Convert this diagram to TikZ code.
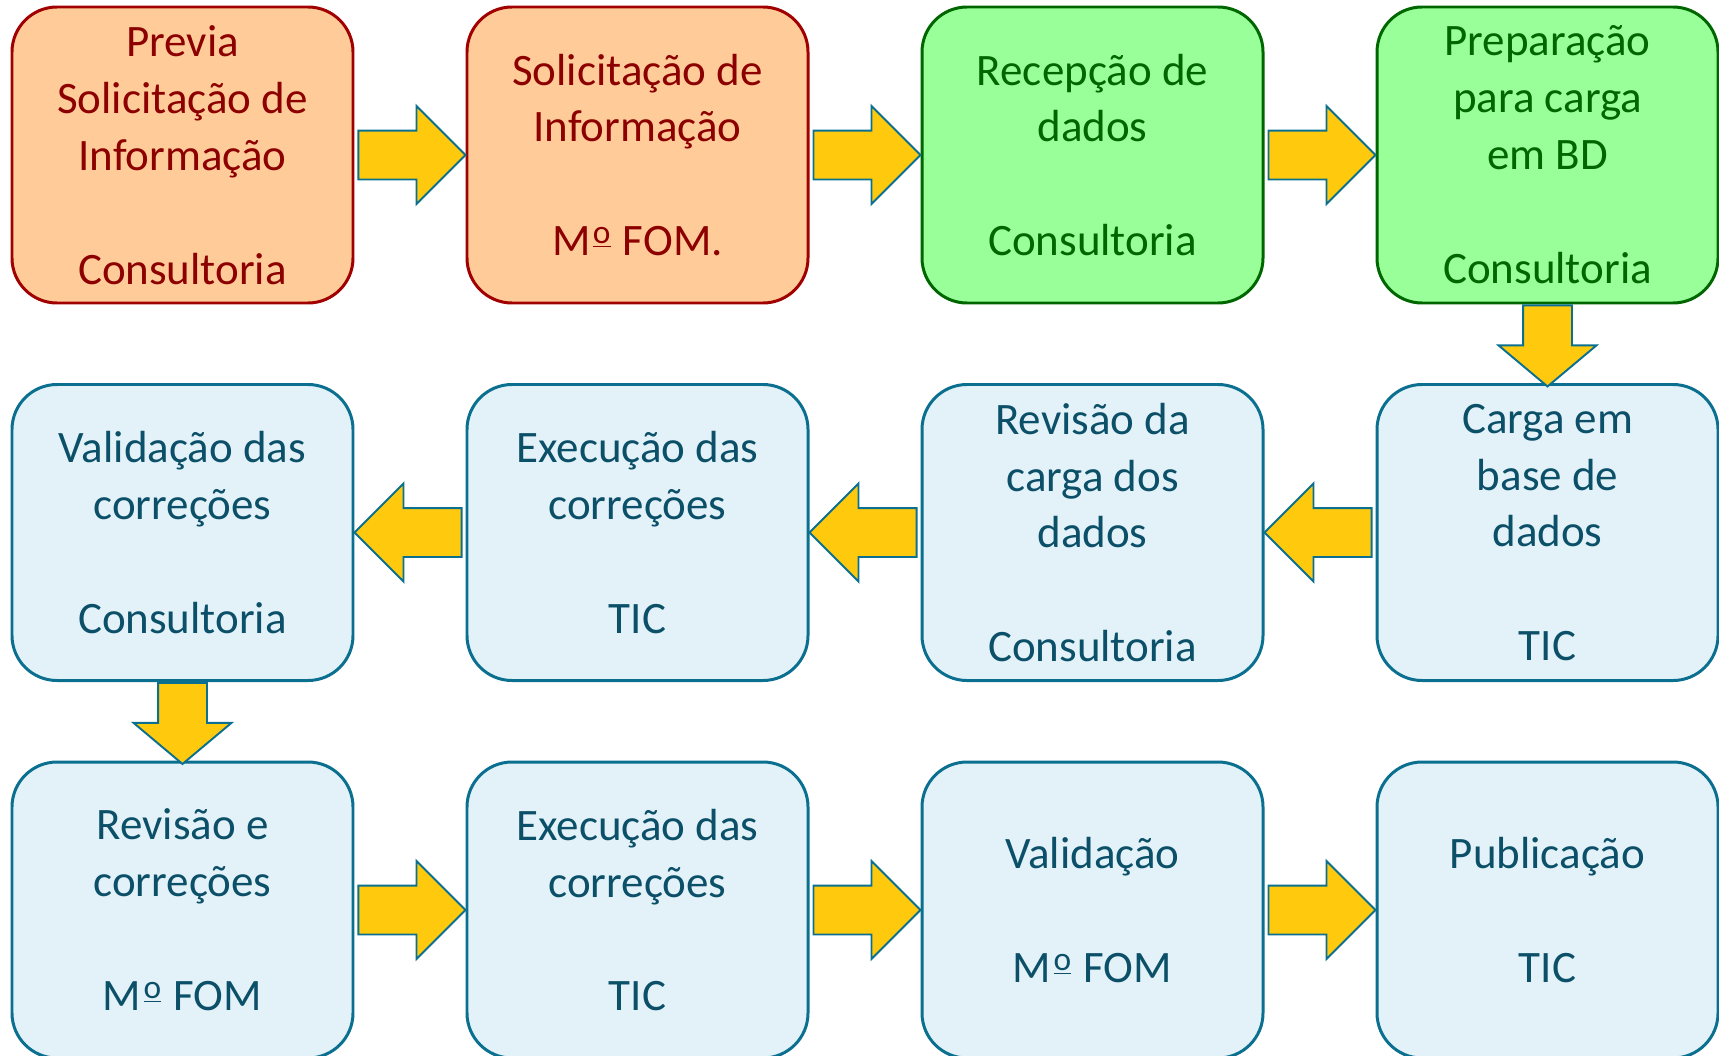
\documentclass[tikz,border=0pt]{standalone}
\usepackage{fontspec}
\setmainfont{Carlito}
\usepackage{xcolor}
\usepackage{tikz}
\usetikzlibrary{shapes.arrows, calc, positioning}

\definecolor{peach}{HTML}{FFCC99}
\definecolor{redline}{HTML}{A00000}
\definecolor{redtext}{HTML}{8C0000}
\definecolor{greenfill}{HTML}{99FF99}
\definecolor{greenline}{HTML}{006600}
\definecolor{bluefill}{HTML}{E3F2F8}
\definecolor{blueline}{HTML}{0B7090}
\definecolor{bluetext}{HTML}{0B5068}
\definecolor{arrowfill}{HTML}{FFC90E}
\newcommand{\mfom}{M\kern0.05em\raisebox{0.27em}{\fontsize{19}{19}\selectfont\underline{o}}\kern0.05em}

\begin{document}
\begin{tikzpicture}[
  box/.style={rounded corners=0.9cm, line width=1.7pt, minimum width=6.82cm, minimum height=5.92cm,
    align=center, inner sep=0pt, font={\fontsize{25.6}{32.4}\selectfont}},
  redbox/.style={box, fill=peach, draw=redline, text=redtext},
  greenbox/.style={box, fill=greenfill, draw=greenline, text=greenline},
  bluebox/.style={box, fill=bluefill, draw=blueline, text=bluetext},
  flecha/.style={single arrow, anchor=tail, fill=arrowfill, draw=blueline, line width=1.1pt, inner xsep=0pt,
    inner ysep=0.47cm, single arrow head extend=0.49cm, minimum height=2.14cm},
  flechabaixo/.style={flecha, rotate=-90, minimum height=1.62cm, single arrow tip angle=100}]
  \useasboundingbox (0,0) rectangle (34.38,-21.1);
  \node[redbox] (b1) at (3.65,-3.1) {Previa\\Solicitação de\\Informação\\[32.4pt]Consultoria};
  \node[redbox] (b2) at (12.75,-3.1) {Solicitação de\\Informação\\[32.4pt]\mfom{} FOM.};
  \node[greenbox] (b3) at (21.85,-3.1) {Recepção de\\dados\\[32.4pt]Consultoria};
  \node[greenbox] (b4) at (30.95,-3.1) {Preparação\\para carga\\em BD\\[32.4pt]Consultoria};
  \node[bluebox] (c4) at (30.95,-10.65) {Carga em\\base de\\dados\\[32.4pt]TIC};
  \node[bluebox] (c3) at (21.85,-10.65) {Revisão da\\carga dos\\dados\\[32.4pt]Consultoria};
  \node[bluebox] (c2) at (12.75,-10.65) {Execução das\\correções\\[32.4pt]TIC};
  \node[bluebox] (c1) at (3.65,-10.65) {Validação das\\correções\\[32.4pt]Consultoria};
  \node[bluebox] (d1) at (3.65,-18.2) {Revisão e\\correções\\[32.4pt]\mfom{} FOM};
  \node[bluebox] (d2) at (12.75,-18.2) {Execução das\\correções\\[32.4pt]TIC};
  \node[bluebox] (d3) at (21.85,-18.2) {Validação\\[32.4pt]\mfom{} FOM};
  \node[bluebox] (d4) at (30.95,-18.2) {Publicação\\[32.4pt]TIC};
  \node[flecha] (f12) at ([xshift=0.06cm]b1.east) {};
  \node[flecha] (f23) at ([xshift=0.06cm]b2.east) {};
  \node[flecha] (f34) at ([xshift=0.06cm]b3.east) {};
  \node[flechabaixo] (f4c) at (b4.south) {};
  \node[flecha, rotate=180] (fc43) at ([xshift=-0.06cm]c4.west) {};
  \node[flecha, rotate=180] (fc32) at ([xshift=-0.06cm]c3.west) {};
  \node[flecha, rotate=180] (fc21) at ([xshift=-0.06cm]c2.west) {};
  \node[flechabaixo] (f1d) at (c1.south) {};
  \node[flecha] (fd12) at ([xshift=0.06cm]d1.east) {};
  \node[flecha] (fd23) at ([xshift=0.06cm]d2.east) {};
  \node[flecha] (fd34) at ([xshift=0.06cm]d3.east) {};
\end{tikzpicture}
\end{document}
